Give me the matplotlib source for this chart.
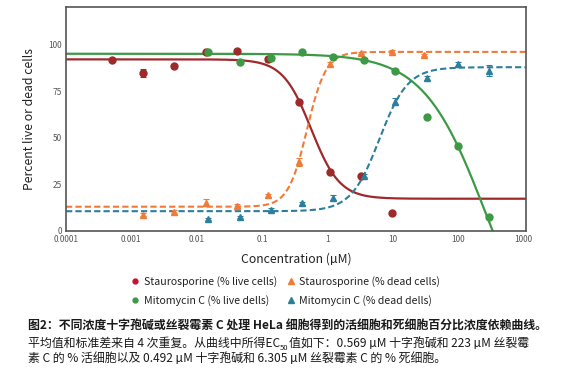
import numpy as np
import matplotlib
matplotlib.use("Agg")
import matplotlib.pyplot as plt
from matplotlib.lines import Line2D

plt.rcParams['font.family'] = ['Noto Sans CJK SC', 'DejaVu Sans']

# 数据
stauro_x = [0.000508, 0.00152, 0.00457, 0.0137, 0.0412, 0.123, 0.370, 1.11, 3.33, 10.0]
stauro_live = [91.7, 84.6, 88.7, 95.7, 96.7, 92.0, 69.0, 31.8, 29.5, 9.5]
stauro_live_err = [0.8, 2.2, 1.0, 0.8, 0.8, 1.2, 0.8, 0.8, 0.8, 0.6]
stauro_dead_x = [0.00152, 0.00457, 0.0137, 0.0412, 0.123, 0.370, 1.11, 3.33, 10.0, 30.0]
stauro_dead = [8.6, 10.4, 15.2, 13.4, 19.1, 36.8, 89.6, 95.3, 96.2, 94.4]
stauro_dead_err = [0.8, 0.8, 1.8, 1.0, 0.8, 2.2, 1.2, 0.6, 0.6, 0.6]

mito_x = [0.0152, 0.0457, 0.137, 0.412, 1.23, 3.70, 11.1, 33.3, 100.0, 300.0]
mito_live = [95.7, 90.7, 92.6, 95.7, 93.5, 91.7, 85.8, 61.2, 45.6, 7.3]
mito_live_err = [0.6, 1.0, 0.8, 0.6, 0.6, 0.6, 0.6, 0.6, 0.6, 0.6]
mito_dead = [6.4, 7.7, 11.3, 14.8, 17.9, 29.5, 69.4, 81.9, 89.4, 86.0]
mito_dead_err = [0.6, 0.6, 1.0, 0.8, 1.2, 0.8, 2.0, 1.0, 1.2, 3.0]

# 拟合参数: (bottom, top, EC50, hill)
fit_stauro_live = (17.3, 92.0, 0.569, 2.0)
fit_stauro_dead = (13.0, 96.0, 0.492, 3.0)
fit_mito_live = (-80.0, 95.0, 282.0, 0.9)
fit_mito_dead = (10.6, 87.8, 6.305, 2.0)

red = '#9e2a2b'
orange = '#f07a3a'
green = '#3c9a44'
teal = '#2b7e9c'


def falling(x, b, t, c, h):
    return b + (t - b) / (1 + (x / c) ** h)


def rising(x, b, t, c, h):
    return b + (t - b) / (1 + (c / x) ** h)


fig = plt.figure(figsize=(5.69, 3.75), dpi=100)
ax = fig.add_axes([0.116, 0.384, 0.808, 0.597])

xs = np.logspace(-4, np.log10(1100), 400)
ax.plot(xs, falling(xs, *fit_stauro_live), color=red, lw=1.6)
ax.plot(xs, rising(xs, *fit_stauro_dead), color=orange, lw=1.5, ls=(0, (3, 1.5)))
ax.plot(xs, falling(xs, *fit_mito_live), color=green, lw=1.6)
ax.plot(xs, rising(xs, *fit_mito_dead), color=teal, lw=1.5, ls=(0, (3, 1.5)))

ekw = dict(ls='none', capsize=2.5, elinewidth=0.8, capthick=0.8, ms=5)
ax.errorbar(stauro_x, stauro_live, yerr=stauro_live_err, marker='o', color=red, **ekw)
ax.errorbar(stauro_dead_x, stauro_dead, yerr=stauro_dead_err, marker='^', color=orange, **ekw)
ax.errorbar(mito_x, mito_live, yerr=mito_live_err, marker='o', color=green, **ekw)
ax.errorbar(mito_x, mito_dead, yerr=mito_dead_err, marker='^', color=teal, **ekw)

ax.set_xscale('log')
ax.set_xlim(1e-4, 1100)
ax.set_ylim(0, 120)
ax.set_yticks([0, 25, 50, 75, 100])
ax.set_xticks([1e-4, 1e-3, 1e-2, 1e-1, 1, 10, 100, 1000])
ax.set_xticklabels(['0.0001', '0.001', '0.01', '0.1', '1', '10', '100', '1000'])
ax.minorticks_off()
ax.tick_params(length=0, labelsize=6, labelcolor='#555555', pad=3)
for s in ax.spines.values():
    s.set_color('#555555')
    s.set_linewidth(1.2)
ax.set_xlabel('Concentration (µM)', fontsize=8.8, color='#222222', labelpad=6)
ax.set_ylabel('Percent live or dead cells', fontsize=8.8, color='#222222', labelpad=9)

handles = [
    Line2D([], [], ls='none', marker='o', color='#c8102e', ms=3.5),
    Line2D([], [], ls='none', marker='o', color=green, ms=3.5),
    Line2D([], [], ls='none', marker='^', color=orange, ms=5),
    Line2D([], [], ls='none', marker='^', color=teal, ms=5),
]
labels = ['Staurosporine (% live cells)', 'Mitomycin C (% live dells)',
          'Staurosporine (% dead cells)', 'Mitomycin C (% dead dells)']
fig.legend(handles, labels, loc='center', bbox_to_anchor=(0.502, 0.224), ncol=2,
           frameon=False, fontsize=7.6, handlelength=0.8, handletextpad=0.4,
           columnspacing=0.9, labelspacing=0.75, labelcolor='#222222')

# 图注
cap_color = '#1a1a1a'
fs = 8.6
fig.text(0.049, 0.13, '图2：不同浓度十字孢碱或丝裂霉素 C 处理 HeLa 细胞得到的活细胞和死细胞百分比浓度依赖曲线。',
         fontsize=fs, fontweight='bold', color=cap_color, va='center')
t1 = fig.text(0.049, 0.085, '平均值和标准差来自 4 次重复。从曲线中所得EC',
              fontsize=fs, color=cap_color, va='center')
fig.canvas.draw()
r = fig.canvas.get_renderer()
bb = t1.get_window_extent(r)
x1 = bb.x1 / fig.bbox.width
t2 = fig.text(x1, 0.071, '50', fontsize=5.5, color=cap_color, va='center')
bb2 = t2.get_window_extent(r)
x2 = bb2.x1 / fig.bbox.width
fig.text(x2, 0.085, '值如下：0.569 µM 十字孢碱和 223 µM 丝裂霉',
         fontsize=fs, color=cap_color, va='center')
fig.text(0.049, 0.045, '素 C 的 % 活细胞以及 0.492 µM 十字孢碱和 6.305 µM 丝裂霉素 C 的 % 死细胞。',
         fontsize=fs, color=cap_color, va='center')

fig.savefig('out.png', dpi=100)
